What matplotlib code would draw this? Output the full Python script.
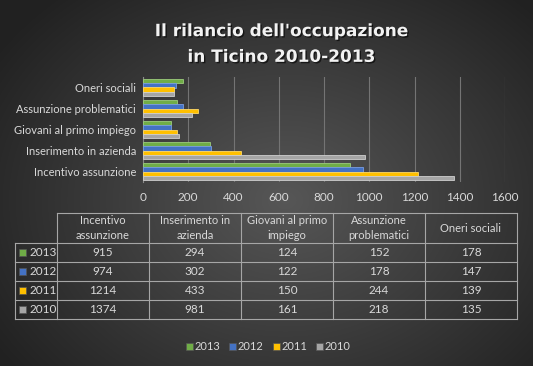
import numpy as np
import matplotlib
matplotlib.use("Agg")
import matplotlib.pyplot as plt
import matplotlib.patheffects as pe
from matplotlib.patches import Rectangle

plt.rcParams['font.family'] = ['Lato', 'DejaVu Sans']

categories = ["Incentivo assunzione", "Inserimento in azienda", "Giovani al primo impiego",
              "Assunzione problematici", "Oneri sociali"]
table_headers = ["Incentivo\nassunzione", "Inserimento in\nazienda", "Giovani al primo\nimpiego",
                 "Assunzione\nproblematici", "Oneri sociali"]
years = ["2013", "2012", "2011", "2010"]
v2013 = [915, 294, 124, 152, 178]
v2012 = [974, 302, 122, 178, 147]
v2011 = [1214, 433, 150, 244, 139]
v2010 = [1374, 981, 161, 218, 135]
series = [v2013, v2012, v2011, v2010]
colors = ["#70AD47", "#4472C4", "#FFC000", "#A5A5A5"]
edges = ["#9ccc7c", "#7a9de0", "#ffd966", "#cfcfcf"]
xticks = [0, 200, 400, 600, 800, 1000, 1200, 1400, 1600]

W, H = 533, 366
fig = plt.figure(figsize=(W / 100, H / 100), dpi=100)

# background radial gradient
bg = fig.add_axes([0, 0, 1, 1], zorder=0)
yy, xx = np.mgrid[0:H, 0:W]
d = np.sqrt(((xx - 285) / 330.0) ** 2 + ((yy - 200) / 260.0) ** 2)
shade = np.clip(0.34 - 0.2 * d, 0.13, 0.34)
bg.imshow(np.dstack([shade] * 3), extent=[0, W, H, 0], aspect='auto')
bg.set_xlim(0, W)
bg.set_ylim(H, 0)
bg.axis('off')

# bar chart
ax = fig.add_axes([143 / W, 1 - 182 / H, 362 / W, 105 / H], zorder=2)
ax.set_facecolor('none')
pos = np.arange(len(categories))
bh = 0.21
offsets = [1.5 * bh, 0.5 * bh, -0.5 * bh, -1.5 * bh]
for vals, c, ec, off in zip(series, colors, edges, offsets):
    ax.barh(pos + off, vals, height=bh, color=c, edgecolor=ec, linewidth=0.6, zorder=3)
ax.set_xlim(0, 1600)
ax.set_ylim(-0.5, len(categories) - 0.5)
ax.set_xticks(xticks)
ax.set_xticklabels([str(t) for t in xticks])
ax.set_yticks(pos)
ax.set_yticklabels(categories)
ax.tick_params(length=0, colors='#d9d9d9', labelsize=8.5)
ax.tick_params(axis='y', labelsize=8, pad=5)
ax.tick_params(axis='x', pad=7)
ax.grid(axis='x', color='#747474', linewidth=0.8, zorder=0)
for s in ['top', 'right', 'bottom']:
    ax.spines[s].set_visible(False)
ax.spines['left'].set_color('#8a8a8a')

# title
title = fig.text(281 / W, 1 - 44 / H, "Il rilancio dell'occupazione\nin Ticino 2010-2013",
                 ha='center', va='center', color='#f2f2f2', fontsize=12.2,
                 fontweight='bold', family='DejaVu Sans', linespacing=1.55, zorder=3)
title.set_path_effects([pe.withSimplePatchShadow(offset=(1, -1), shadow_rgbFace='black', alpha=0.6)])

# data table (pixel coordinates on overlay)
ov = fig.add_axes([0, 0, 1, 1], zorder=3)
ov.set_xlim(0, W)
ov.set_ylim(H, 0)
ov.axis('off')
lc = '#a6a6a6'
tc = '#d9d9d9'
x0, xl, cw = 15, 57, 92
y0, hh, rh = 213, 30, 19
ncol = len(categories)
xr = xl + ncol * cw
# header row
ov.plot([xl, xr], [y0, y0], color=lc, lw=0.8)
for j in range(ncol + 1):
    ov.plot([xl + j * cw] * 2, [y0, y0 + hh], color=lc, lw=0.8)
for j, h in enumerate(table_headers):
    ov.text(xl + (j + 0.5) * cw, y0 + hh / 2, h, ha='center', va='center',
            color=tc, fontsize=8, linespacing=1.5)
# body rows
yb = y0 + hh
for i in range(len(years) + 1):
    ov.plot([x0, xr], [yb + i * rh] * 2, color=lc, lw=0.8)
for xv in [x0] + [xl + j * cw for j in range(ncol + 1)]:
    ov.plot([xv, xv], [yb, yb + len(years) * rh], color=lc, lw=0.8)
for i, (yr, vals, c) in enumerate(zip(years, series, colors)):
    yc = yb + (i + 0.5) * rh
    ov.add_patch(Rectangle((19, yc - 3.5), 7, 7, facecolor=c, edgecolor='#555555', lw=0.5))
    ov.text(29, yc, yr, ha='left', va='center', color=tc, fontsize=8.5)
    for j, v in enumerate(vals):
        ov.text(xl + (j + 0.5) * cw, yc, str(v), ha='center', va='center', color=tc, fontsize=8.5)

# legend
lx = [186, 229, 273, 316]
for x, yr, c in zip(lx, years, colors):
    ov.add_patch(Rectangle((x, 343), 7, 7, facecolor=c, edgecolor='#555555', lw=0.5))
    ov.text(x + 9, 346.5, yr, ha='left', va='center', color=tc, fontsize=8)

fig.savefig("out.png", dpi=100)
